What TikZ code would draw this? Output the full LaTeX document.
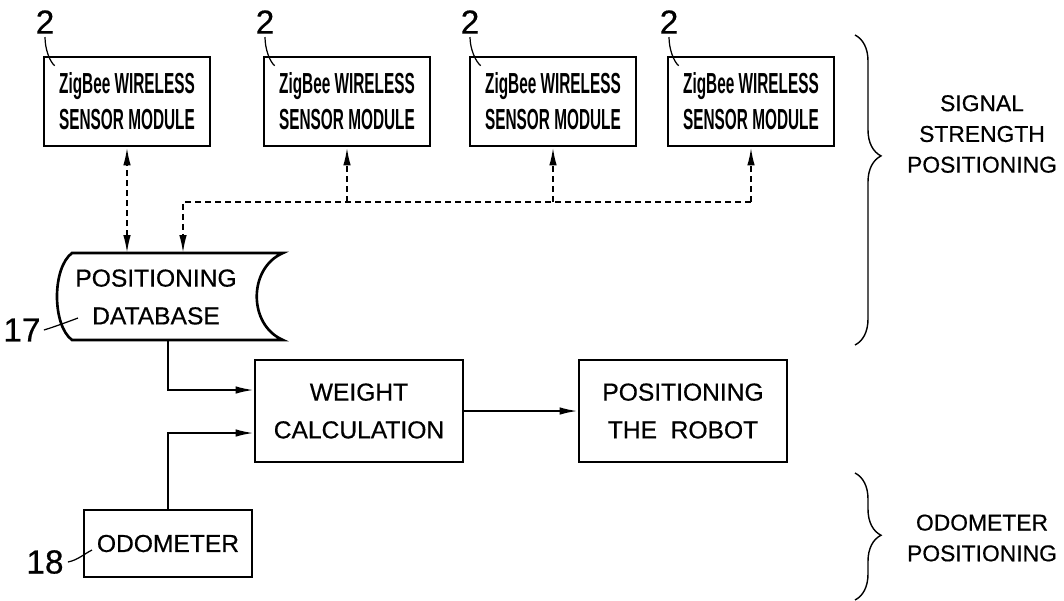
\documentclass[tikz,border=0pt]{standalone}
\usepackage{fontspec}
\setmainfont{Liberation Sans}[FakeBold=0.5]
\newfontfamily\zigfont{Liberation Sans}[FakeStretch=0.53]
\usetikzlibrary{arrows.meta,decorations.pathreplacing,calc}
\newcommand{\mainf}{\fontsize{14}{21.5}\selectfont}
\newcommand{\zigf}{\zigfont\bfseries\fontsize{16.5}{20.5}\selectfont}
\newcommand{\numf}{\fontsize{19}{22}\selectfont}
\newcommand{\sidef}{\fontsize{13}{17.5}\selectfont}
\begin{document}
\begin{tikzpicture}[x=0.02cm,y=-0.02cm,
  zig/.style={draw,line width=1.5pt,inner sep=0pt,align=center,font=\zigf,
    minimum width=3.32cm,minimum height=1.78cm},
  blk/.style={draw,line width=1.5pt,inner sep=0pt,align=center,font=\mainf},
  num/.style={inner sep=0pt,font=\numf},
  lead/.style={line width=0.7pt},
  conn/.style={line width=1.1pt,-{Latex[length=0.36cm,width=0.15cm]}},
  dconn/.style={line width=1.1pt,dash pattern=on 0.13cm off 0.07cm},
  tip/.style={-{Latex[length=0.36cm,width=0.15cm]}},
  brc/.style={decorate,line width=0.8pt},
  side/.style={inner sep=0pt,align=center,font=\sidef}]
\useasboundingbox (0,0) rectangle (1064,600);
\fill[white] (0,0) rectangle (1064,600);

% ZigBee modules
\node[zig] (z1) at (127,101.5) {ZigBee WIRELESS\\SENSOR MODULE};
\node[zig] (z2) at (347,101.5) {ZigBee WIRELESS\\SENSOR MODULE};
\node[zig] (z3) at (553,101.5) {ZigBee WIRELESS\\SENSOR MODULE};
\node[zig] (z4) at (751,101.5) {ZigBee WIRELESS\\SENSOR MODULE};

% reference numerals 2
\node[num] (n1) at (45,22) {2};
\node[num] (n2) at (265,22) {2};
\node[num] (n3) at (470,22) {2};
\node[num] (n4) at (669,22) {2};
\foreach \n/\z in {n1/z1,n2/z2,n3/z3,n4/z4}{
  \draw[lead] ($(\n.south)+(0,3)$) .. controls +(0,12) and +(-5,-4) .. ($(\z.north west)+(12,10)$);
}

% positioning database
\draw[line width=1.5pt] (72,253) -- (283,253)
  .. controls (248,268) and (248,325) .. (283,340) -- (72,340)
  .. controls (52,325) and (52,268) .. (72,253) -- cycle;
\node[inner sep=0pt,align=center,font=\mainf,minimum width=4.52cm,minimum height=1.74cm] (db) at (156,297) {POSITIONING\\DATABASE};
\node[num] (n17) at (22,330) {17};
\draw[lead] ($(n17.east)+(3,0)$) .. controls +(10,-3) and +(-8,3) .. (78,318);

% weight and positioning
\node[blk,minimum width=4.16cm,minimum height=2.04cm] (w) at (359,411) {WEIGHT\\CALCULATION};
\node[blk,minimum width=4.16cm,minimum height=2.04cm] (p) at (683,411) {POSITIONING\\THE\ \ ROBOT};

% odometer
\node[blk,minimum width=3.36cm,minimum height=1.34cm] (o) at (168,543.5) {ODOMETER};
\node[num] (n18) at (45,562) {18};
\draw[lead] ($(n18.east)+(4,0)$) .. controls +(10,-2) and +(-8,4) .. (92,550);

% dashed links
\draw[dconn,{Latex[length=0.36cm,width=0.15cm]}-{Latex[length=0.36cm,width=0.15cm]}] (z1.south |- db.north) -- (z1.south);
\coordinate (h) at (0,202);
\coordinate (dbin) at ($(db.north)+(27,0)$);
\draw[dconn,tip] (z4.south |- h) -- (dbin |- h) -- (dbin);
\draw[dconn,tip] (z2.south |- h) -- (z2.south);
\draw[dconn,tip] (z3.south |- h) -- (z3.south);
\draw[dconn,tip] (z4.south |- h) -- (z4.south);

% solid links
\draw[conn] (o.north |- db.south) |- ($(w.west)+(0,-21)$);
\draw[conn] (o.north) |- ($(w.west)+(0,22)$);
\draw[conn] (w.east) -- (p.west);

% braces
\draw[brc,decoration={brace,amplitude=0.52cm,aspect=0.39}] (855,35) -- (855,345);
\draw[brc,decoration={brace,amplitude=0.52cm,aspect=0.49}] (855,473) -- (855,600);
\node[side] (t1) at (982,134) {SIGNAL\\STRENGTH\\POSITIONING};
\node[side] (t2) at (982,538) {ODOMETER\\POSITIONING};
\end{tikzpicture}
\end{document}
